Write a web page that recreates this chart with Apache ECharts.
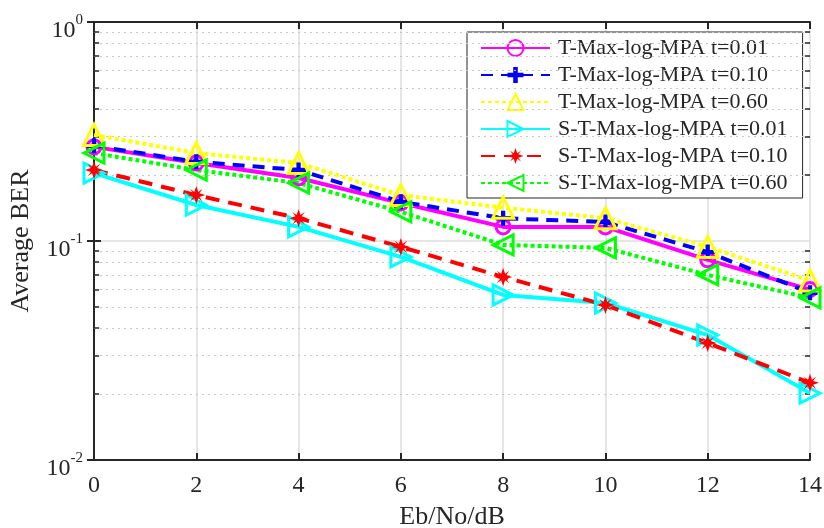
<!DOCTYPE html>
<html><head><meta charset="utf-8">
<script src="https://cdn.jsdelivr.net/npm/echarts@6/dist/echarts.min.js"></script>
<style>html,body{margin:0;padding:0;background:#fff}#c{width:824px;height:528px}</style>
</head><body><div id="c"></div>
<script>
var ebno = [0, 2, 4, 6, 8, 10, 12, 14];
var names = ['T-Max-log-MPA t=0.01','T-Max-log-MPA t=0.10','T-Max-log-MPA t=0.60','S-T-Max-log-MPA t=0.01','S-T-Max-log-MPA t=0.10','S-T-Max-log-MPA t=0.60'];
var tT001 = [0.269, 0.227, 0.194, 0.149, 0.116, 0.116, 0.082, 0.060];
var tT010 = [0.272, 0.230, 0.211, 0.151, 0.127, 0.122, 0.089, 0.058];
var tT060 = [0.305, 0.252, 0.227, 0.162, 0.142, 0.127, 0.094, 0.066];
var sT001 = [0.204, 0.146, 0.116, 0.0846, 0.0567, 0.0521, 0.0372, 0.0202];
var sT010 = [0.211, 0.162, 0.127, 0.094, 0.0685, 0.051, 0.0342, 0.0225];
var sT060 = [0.252, 0.211, 0.184, 0.136, 0.096, 0.093, 0.070, 0.055];
var minorVals = [0.02,0.03,0.04,0.05,0.06,0.07,0.08,0.09,0.2,0.3,0.4,0.5,0.6,0.7,0.8,0.9];
var yTickLabels = {'0':'0','-1':'-1','-2':'-2'};

var FONT = 'Liberation Serif';
function pts(arr){ return ebno.map(function(x,i){ return [x, arr[i]]; }); }

var asterisk = 'path://M0,-10 L2.2,-3.5 L7,-7 L3.5,-2.2 L10,0 L3.5,2.2 L7,7 L2.2,3.5 L0,10 L-2.2,3.5 L-7,7 L-3.5,2.2 L-10,0 L-3.5,-2.2 L-7,-7 L-2.2,-3.5 Z';
var plus = 'path://M-2,-7 L2,-7 L2,-2 L7,-2 L7,2 L2,2 L2,7 L-2,7 L-2,2 L-7,2 L-7,-2 L-2,-2 Z';
var rightTri = 'path://M0,0 L10,5 L0,10 Z';
var leftTri = 'path://M10,0 L0,5 L10,10 Z';

function mkSeries(name, arr, color, lineType, width, symbol, size, hollow){
  return {
    name: name, type: 'line', data: pts(arr), z: 5,
    symbol: symbol, symbolSize: size, symbolKeepAspect: true, showAllSymbol: true,
    lineStyle: { color: color, width: width, type: lineType, cap: 'butt' },
    itemStyle: hollow ? { color: 'rgba(255,255,255,0)', borderColor: color, borderWidth: 3 }
                      : { color: color, borderColor: color, borderWidth: 0 },
    emphasis: { disabled: true }, animation: false
  };
}

var minorGrid = minorVals.map(function(v){ return [{coord:[0,v]},{coord:[14,v]}]; });
var minorTicks = [];
minorVals.forEach(function(v){
  minorTicks.push([{coord:[0,v]},{coord:[0.1,v]}]);
  minorTicks.push([{coord:[13.9,v]},{coord:[14,v]}]);
});

var chart = echarts.init(document.getElementById('c'), null, {renderer:'canvas'});
chart.setOption({
  animation: false,
  backgroundColor: '#fff',
  grid: { left: 94, right: 14, top: 22, bottom: 68, containLabel: false, outerBoundsMode: 'none' },
  xAxis: [{
    type: 'value', min: 0, max: 14, interval: 2, position: 'bottom',
    name: 'Eb/No/dB', nameLocation: 'middle', nameGap: 44,
    nameTextStyle: { fontFamily: FONT, fontSize: 26, color: '#262626' },
    axisLine: { show: true, lineStyle: { color: '#262626', width: 2 } },
    axisTick: { show: true, inside: true, length: 7, lineStyle: { color: '#262626', width: 2 } },
    axisLabel: { fontFamily: FONT, fontSize: 24, color: '#262626', margin: 14 },
    splitLine: { show: true, lineStyle: { color: '#dcdcdc', width: 1.5 } }
  },{
    type: 'value', min: 0, max: 14, interval: 2, position: 'top',
    axisLine: { show: true, lineStyle: { color: '#262626', width: 2 } },
    axisTick: { show: true, inside: true, length: 7, lineStyle: { color: '#262626', width: 2 } },
    axisLabel: { show: false }, splitLine: { show: false }
  }],
  yAxis: [{
    type: 'log', logBase: 10, min: 0.01, max: 1, position: 'left',
    name: 'Average BER', nameLocation: 'middle', nameGap: 60, nameRotate: 90,
    nameTextStyle: { fontFamily: FONT, fontSize: 26, color: '#262626' },
    axisLine: { show: true, lineStyle: { color: '#262626', width: 2 } },
    axisTick: { show: true, inside: true, length: 7, lineStyle: { color: '#262626', width: 2 } },
    axisLabel: {
      margin: 11, color: '#262626',
      formatter: function(v){ var e = Math.round(Math.log10(v)); return '{b|10}{s|' + yTickLabels[String(e)] + '}'; },
      rich: {
        b: { fontFamily: FONT, fontSize: 24, color: '#262626', padding: [18,0,0,0] },
        s: { fontFamily: FONT, fontSize: 15, color: '#262626', verticalAlign: 'top', padding: [12,0,0,0] }
      }
    },
    splitLine: { show: true, lineStyle: { color: '#dcdcdc', width: 1.5 } }
  },{
    type: 'log', logBase: 10, min: 0.01, max: 1, position: 'right',
    axisLine: { show: true, lineStyle: { color: '#262626', width: 2 } },
    axisTick: { show: true, inside: true, length: 7, lineStyle: { color: '#262626', width: 2 } },
    axisLabel: { show: false }, splitLine: { show: false }
  }],
  legend: {
    data: names, orient: 'vertical', left: 467, top: 32,
    backgroundColor: '#fff', borderColor: '#262626', borderWidth: 1,
    padding: [5, 15, 4, 13], itemGap: 5, itemWidth: 69, itemHeight: 20,
    textStyle: { fontFamily: FONT, fontSize: 22, color: '#262626', lineHeight: 22, padding: [0,0,0,3] },
    selectedMode: false
  },
  series: [
    { type: 'line', data: [], silent: true, z: 1, xAxisIndex: 0, yAxisIndex: 0,
      markLine: { silent: true, symbol: 'none', label: { show: false }, animation: false,
        lineStyle: { color: '#c8c8c8', width: 1, type: [2, 4] }, data: minorGrid } },
    { type: 'line', data: [], silent: true, z: 2, xAxisIndex: 0, yAxisIndex: 0,
      markLine: { silent: true, symbol: 'none', label: { show: false }, animation: false,
        lineStyle: { color: '#262626', width: 1.5, type: 'solid' }, data: minorTicks } },
    mkSeries(names[0], tT001, '#ff00ff', 'solid', 4, 'circle', 14, true),
    mkSeries(names[1], tT010, '#0000ff', [12, 8], 4, plus, 15, false),
    mkSeries(names[2], tT060, '#ffff00', [4, 3], 4, 'triangle', 21, true),
    mkSeries(names[3], sT001, '#00ffff', 'solid', 4, rightTri, 20, true),
    mkSeries(names[4], sT010, '#ff0000', [14, 9], 4, asterisk, 18, false),
    mkSeries(names[5], sT060, '#00ff00', [4, 3], 4, leftTri, 20, true)
  ]
});
</script></body></html>
